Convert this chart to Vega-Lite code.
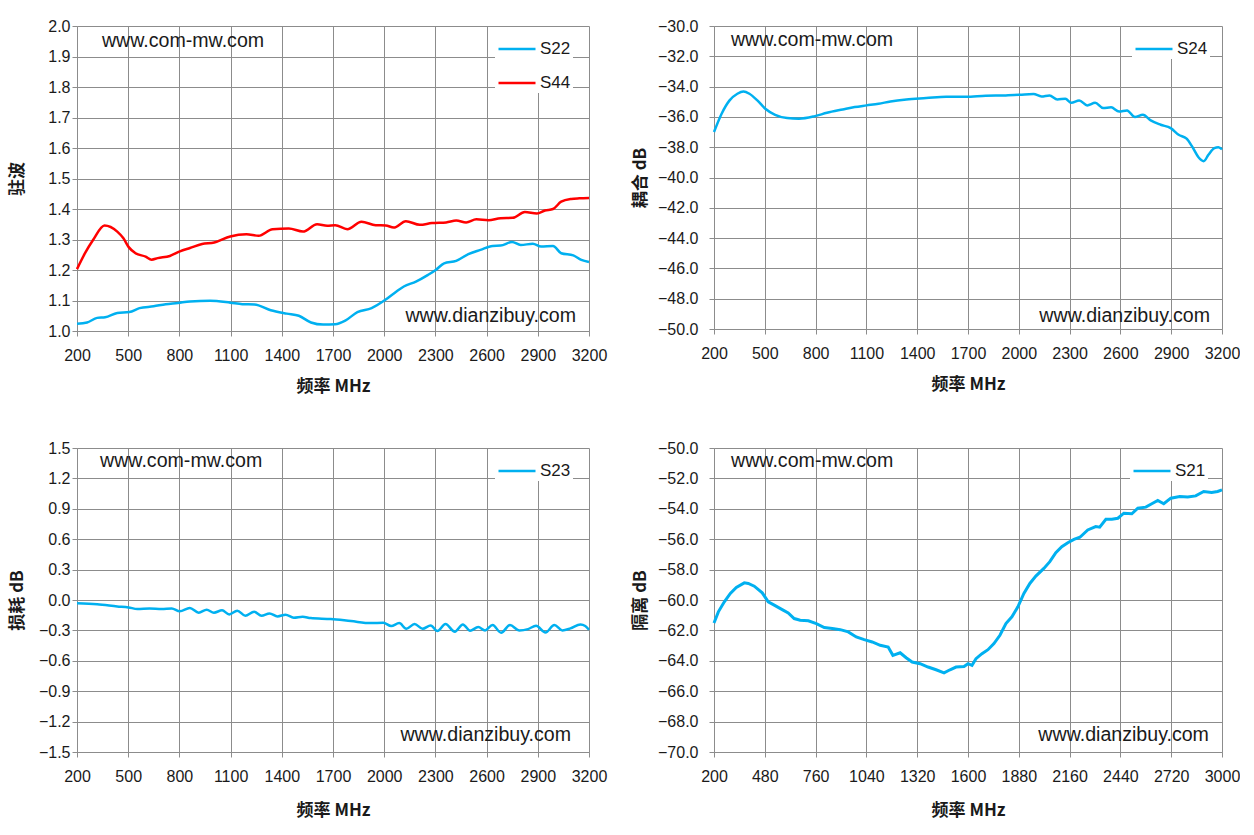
{
  "$schema": "https://vega.github.io/schema/vega-lite/v6.json",
  "background": "white",
  "padding": {"left": 8, "top": 18, "right": 0, "bottom": 6},
  "spacing": 46,
  "resolve": {"scale": {"color": "independent"}, "legend": {"color": "independent"}},
  "vconcat": [
    {
      "hconcat": [
        {
          "width": 512,
          "height": 305,
          "layer": [
            {
              "data": {"values": [
                {"s":"S22","f":200,"v":1.024},{"s":"S22","f":259,"v":1.028},{"s":"S22","f":318,"v":1.043},{"s":"S22","f":365,"v":1.045},{"s":"S22","f":436,"v":1.059},{"s":"S22","f":507,"v":1.062},{"s":"S22","f":566,"v":1.075},{"s":"S22","f":649,"v":1.081},{"s":"S22","f":720,"v":1.088},{"s":"S22","f":791,"v":1.092},{"s":"S22","f":862,"v":1.097},{"s":"S22","f":980,"v":1.099},{"s":"S22","f":1098,"v":1.093},{"s":"S22","f":1169,"v":1.088},{"s":"S22","f":1240,"v":1.087},{"s":"S22","f":1335,"v":1.068},{"s":"S22","f":1429,"v":1.057},{"s":"S22","f":1500,"v":1.05},{"s":"S22","f":1571,"v":1.028},{"s":"S22","f":1642,"v":1.021},{"s":"S22","f":1713,"v":1.022},{"s":"S22","f":1772,"v":1.034},{"s":"S22","f":1843,"v":1.062},{"s":"S22","f":1926,"v":1.075},{"s":"S22","f":2009,"v":1.103},{"s":"S22","f":2068,"v":1.128},{"s":"S22","f":2115,"v":1.146},{"s":"S22","f":2186,"v":1.162},{"s":"S22","f":2257,"v":1.184},{"s":"S22","f":2304,"v":1.201},{"s":"S22","f":2351,"v":1.222},{"s":"S22","f":2422,"v":1.23},{"s":"S22","f":2493,"v":1.252},{"s":"S22","f":2564,"v":1.266},{"s":"S22","f":2635,"v":1.279},{"s":"S22","f":2682,"v":1.28},{"s":"S22","f":2749,"v":1.292},{"s":"S22","f":2800,"v":1.282},{"s":"S22","f":2871,"v":1.286},{"s":"S22","f":2919,"v":1.277},{"s":"S22","f":2989,"v":1.279},{"s":"S22","f":3037,"v":1.255},{"s":"S22","f":3108,"v":1.248},{"s":"S22","f":3155,"v":1.233},{"s":"S22","f":3200,"v":1.226},
                {"s":"S44","f":200,"v":1.203},{"s":"S44","f":247,"v":1.255},{"s":"S44","f":295,"v":1.299},{"s":"S44","f":361,"v":1.346},{"s":"S44","f":436,"v":1.326},{"s":"S44","f":472,"v":1.304},{"s":"S44","f":503,"v":1.275},{"s":"S44","f":543,"v":1.255},{"s":"S44","f":602,"v":1.244},{"s":"S44","f":637,"v":1.234},{"s":"S44","f":673,"v":1.239},{"s":"S44","f":744,"v":1.246},{"s":"S44","f":803,"v":1.261},{"s":"S44","f":862,"v":1.272},{"s":"S44","f":933,"v":1.285},{"s":"S44","f":1004,"v":1.29},{"s":"S44","f":1098,"v":1.31},{"s":"S44","f":1193,"v":1.317},{"s":"S44","f":1264,"v":1.312},{"s":"S44","f":1346,"v":1.334},{"s":"S44","f":1441,"v":1.336},{"s":"S44","f":1524,"v":1.326},{"s":"S44","f":1607,"v":1.35},{"s":"S44","f":1666,"v":1.345},{"s":"S44","f":1713,"v":1.347},{"s":"S44","f":1784,"v":1.334},{"s":"S44","f":1867,"v":1.358},{"s":"S44","f":1950,"v":1.347},{"s":"S44","f":2009,"v":1.346},{"s":"S44","f":2056,"v":1.339},{"s":"S44","f":2127,"v":1.36},{"s":"S44","f":2209,"v":1.348},{"s":"S44","f":2280,"v":1.354},{"s":"S44","f":2363,"v":1.356},{"s":"S44","f":2422,"v":1.362},{"s":"S44","f":2480,"v":1.356},{"s":"S44","f":2540,"v":1.366},{"s":"S44","f":2611,"v":1.363},{"s":"S44","f":2682,"v":1.37},{"s":"S44","f":2753,"v":1.371},{"s":"S44","f":2824,"v":1.39},{"s":"S44","f":2895,"v":1.385},{"s":"S44","f":2942,"v":1.395},{"s":"S44","f":2989,"v":1.4},{"s":"S44","f":3037,"v":1.424},{"s":"S44","f":3096,"v":1.433},{"s":"S44","f":3143,"v":1.435},{"s":"S44","f":3200,"v":1.436}
              ]},
              "mark": {"type": "line", "strokeWidth": 2.5, "interpolate": "monotone"},
              "encoding": {
                "x": {"field": "f", "type": "quantitative", "scale": {"domain": [200, 3200], "nice": false},
                      "axis": {"values": [200,500,800,1100,1400,1700,2000,2300,2600,2900,3200], "tickCount": 30, "format": "d", "labelOverlap": false, "title": "频率  MHz"}},
                "y": {"field": "v", "type": "quantitative", "scale": {"domain": [1.0, 2.0], "nice": false, "zero": false},
                      "axis": {"values": [1.0,1.1,1.2,1.3,1.4,1.5,1.6,1.7,1.8,1.9,2.0], "tickCount": 30, "format": ".1f", "labelOverlap": false, "labelPadding": 2, "titlePadding": 21, "title": "驻波"}},
                "color": {"field": "s", "type": "nominal",
                          "scale": {"domain": ["S22","S44"], "range": ["#00B0F0","#FF0000"]},
                          "legend": {"orient": "none", "legendX": 418, "legendY": 1, "title": null}}
              }
            },
            {
              "data": {"values": [{"t": "www.com-mw.com"}]},
              "mark": {"type": "text", "align": "left", "baseline": "middle", "font": "Liberation Sans", "fontSize": 19.6, "color": "#1a1a1a"},
              "encoding": {"x": {"datum": 346, "type": "quantitative"}, "y": {"datum": 1.951, "type": "quantitative"}, "text": {"field": "t"}}
            },
            {
              "data": {"values": [{"t": "www.dianzibuy.com"}]},
              "mark": {"type": "text", "align": "right", "baseline": "middle", "font": "Liberation Sans", "fontSize": 19.6, "color": "#1a1a1a"},
              "encoding": {"x": {"datum": 3124, "type": "quantitative"}, "y": {"datum": 1.049, "type": "quantitative"}, "text": {"field": "t"}}
            }
          ]
        },
        {
          "width": 508,
          "height": 303,
          "layer": [
            {
              "data": {"values": [
                {"s":"S24","f":200,"v":-37.0},{"s":"S24","f":245,"v":-35.79},{"s":"S24","f":292,"v":-34.91},{"s":"S24","f":338,"v":-34.47},{"s":"S24","f":374,"v":-34.32},{"s":"S24","f":409,"v":-34.47},{"s":"S24","f":456,"v":-34.91},{"s":"S24","f":503,"v":-35.46},{"s":"S24","f":561,"v":-35.86},{"s":"S24","f":632,"v":-36.08},{"s":"S24","f":702,"v":-36.12},{"s":"S24","f":796,"v":-35.95},{"s":"S24","f":867,"v":-35.73},{"s":"S24","f":960,"v":-35.51},{"s":"S24","f":1031,"v":-35.35},{"s":"S24","f":1101,"v":-35.24},{"s":"S24","f":1172,"v":-35.13},{"s":"S24","f":1242,"v":-34.98},{"s":"S24","f":1336,"v":-34.85},{"s":"S24","f":1453,"v":-34.76},{"s":"S24","f":1571,"v":-34.67},{"s":"S24","f":1688,"v":-34.67},{"s":"S24","f":1805,"v":-34.6},{"s":"S24","f":1923,"v":-34.58},{"s":"S24","f":2005,"v":-34.54},{"s":"S24","f":2087,"v":-34.49},{"s":"S24","f":2134,"v":-34.65},{"s":"S24","f":2181,"v":-34.58},{"s":"S24","f":2228,"v":-34.85},{"s":"S24","f":2275,"v":-34.8},{"s":"S24","f":2310,"v":-35.07},{"s":"S24","f":2357,"v":-34.91},{"s":"S24","f":2404,"v":-35.24},{"s":"S24","f":2451,"v":-35.07},{"s":"S24","f":2498,"v":-35.42},{"s":"S24","f":2545,"v":-35.37},{"s":"S24","f":2592,"v":-35.64},{"s":"S24","f":2639,"v":-35.57},{"s":"S24","f":2686,"v":-36.01},{"s":"S24","f":2733,"v":-35.86},{"s":"S24","f":2779,"v":-36.23},{"s":"S24","f":2838,"v":-36.52},{"s":"S24","f":2897,"v":-36.74},{"s":"S24","f":2944,"v":-37.18},{"s":"S24","f":2991,"v":-37.44},{"s":"S24","f":3026,"v":-38.0},{"s":"S24","f":3061,"v":-38.66},{"s":"S24","f":3092,"v":-38.92},{"s":"S24","f":3120,"v":-38.5},{"s":"S24","f":3155,"v":-38.06},{"s":"S24","f":3179,"v":-38.0},{"s":"S24","f":3200,"v":-38.15}
              ]},
              "mark": {"type": "line", "strokeWidth": 2.5, "interpolate": "monotone"},
              "encoding": {
                "x": {"field": "f", "type": "quantitative", "scale": {"domain": [200, 3200], "nice": false},
                      "axis": {"values": [200,500,800,1100,1400,1700,2000,2300,2600,2900,3200], "tickCount": 30, "format": "d", "labelOverlap": false, "title": "频率  MHz"}},
                "y": {"field": "v", "type": "quantitative", "scale": {"domain": [-50, -30], "nice": false, "zero": false},
                      "axis": {"values": [-50,-48,-46,-44,-42,-40,-38,-36,-34,-32,-30], "tickCount": 30, "format": ".1f", "labelOverlap": false, "labelPadding": 11, "titlePadding": 8, "title": "耦合 dB"}},
                "color": {"field": "s", "type": "nominal",
                          "scale": {"domain": ["S24"], "range": ["#00B0F0"]},
                          "legend": {"orient": "none", "legendX": 418, "legendY": 1, "title": null}}
              }
            },
            {
              "data": {"values": [{"t": "www.com-mw.com"}]},
              "mark": {"type": "text", "align": "left", "baseline": "middle", "font": "Liberation Sans", "fontSize": 19.6, "color": "#1a1a1a"},
              "encoding": {"x": {"datum": 300, "type": "quantitative"}, "y": {"datum": -30.92, "type": "quantitative"}, "text": {"field": "t"}}
            },
            {
              "data": {"values": [{"t": "www.dianzibuy.com"}]},
              "mark": {"type": "text", "align": "right", "baseline": "middle", "font": "Liberation Sans", "fontSize": 19.6, "color": "#1a1a1a"},
              "encoding": {"x": {"datum": 3129, "type": "quantitative"}, "y": {"datum": -49.14, "type": "quantitative"}, "text": {"field": "t"}}
            }
          ]
        }
      ],
      "spacing": 24,
      "resolve": {"scale": {"color": "independent"}, "legend": {"color": "independent"}}
    },
    {
      "hconcat": [
        {
          "width": 512,
          "height": 304,
          "layer": [
            {
              "data": {"values": [
                {"s":"S23","f":200,"v":-0.033},{"s":"S23","f":318,"v":-0.043},{"s":"S23","f":436,"v":-0.063},{"s":"S23","f":502,"v":-0.073},{"s":"S23","f":554,"v":-0.089},{"s":"S23","f":625,"v":-0.083},{"s":"S23","f":696,"v":-0.089},{"s":"S23","f":755,"v":-0.083},{"s":"S23","f":802,"v":-0.112},{"s":"S23","f":861,"v":-0.079},{"s":"S23","f":913,"v":-0.125},{"s":"S23","f":960,"v":-0.096},{"s":"S23","f":1002,"v":-0.125},{"s":"S23","f":1050,"v":-0.102},{"s":"S23","f":1092,"v":-0.142},{"s":"S23","f":1139,"v":-0.105},{"s":"S23","f":1186,"v":-0.155},{"s":"S23","f":1238,"v":-0.115},{"s":"S23","f":1281,"v":-0.155},{"s":"S23","f":1328,"v":-0.132},{"s":"S23","f":1375,"v":-0.162},{"s":"S23","f":1422,"v":-0.145},{"s":"S23","f":1470,"v":-0.175},{"s":"S23","f":1522,"v":-0.165},{"s":"S23","f":1569,"v":-0.178},{"s":"S23","f":1687,"v":-0.188},{"s":"S23","f":1805,"v":-0.208},{"s":"S23","f":1923,"v":-0.228},{"s":"S23","f":1994,"v":-0.224},{"s":"S23","f":2041,"v":-0.257},{"s":"S23","f":2088,"v":-0.228},{"s":"S23","f":2130,"v":-0.284},{"s":"S23","f":2178,"v":-0.237},{"s":"S23","f":2225,"v":-0.284},{"s":"S23","f":2272,"v":-0.251},{"s":"S23","f":2312,"v":-0.307},{"s":"S23","f":2359,"v":-0.237},{"s":"S23","f":2414,"v":-0.313},{"s":"S23","f":2461,"v":-0.241},{"s":"S23","f":2503,"v":-0.303},{"s":"S23","f":2551,"v":-0.267},{"s":"S23","f":2591,"v":-0.3},{"s":"S23","f":2635,"v":-0.247},{"s":"S23","f":2685,"v":-0.323},{"s":"S23","f":2737,"v":-0.247},{"s":"S23","f":2791,"v":-0.3},{"s":"S23","f":2843,"v":-0.287},{"s":"S23","f":2890,"v":-0.254},{"s":"S23","f":2945,"v":-0.32},{"s":"S23","f":2997,"v":-0.247},{"s":"S23","f":3044,"v":-0.3},{"s":"S23","f":3091,"v":-0.28},{"s":"S23","f":3150,"v":-0.241},{"s":"S23","f":3178,"v":-0.257},{"s":"S23","f":3200,"v":-0.294}
              ]},
              "mark": {"type": "line", "strokeWidth": 2.5, "interpolate": "monotone"},
              "encoding": {
                "x": {"field": "f", "type": "quantitative", "scale": {"domain": [200, 3200], "nice": false},
                      "axis": {"values": [200,500,800,1100,1400,1700,2000,2300,2600,2900,3200], "tickCount": 30, "format": "d", "labelOverlap": false, "titlePadding": 18, "title": "频率  MHz"}},
                "y": {"field": "v", "type": "quantitative", "scale": {"domain": [-1.5, 1.5], "nice": false, "zero": false},
                      "axis": {"values": [-1.5,-1.2,-0.9,-0.6,-0.3,0,0.3,0.6,0.9,1.2,1.5], "tickCount": 30, "format": ".1f", "labelOverlap": false, "labelPadding": 2, "titlePadding": 12, "title": "损耗 dB"}},
                "color": {"field": "s", "type": "nominal",
                          "scale": {"domain": ["S23"], "range": ["#00B0F0"]},
                          "legend": {"orient": "none", "legendX": 418, "legendY": 1, "title": null}}
              }
            },
            {
              "data": {"values": [{"t": "www.com-mw.com"}]},
              "mark": {"type": "text", "align": "left", "baseline": "middle", "font": "Liberation Sans", "fontSize": 19.6, "color": "#1a1a1a"},
              "encoding": {"x": {"datum": 335, "type": "quantitative"}, "y": {"datum": 1.372, "type": "quantitative"}, "text": {"field": "t"}}
            },
            {
              "data": {"values": [{"t": "www.dianzibuy.com"}]},
              "mark": {"type": "text", "align": "right", "baseline": "middle", "font": "Liberation Sans", "fontSize": 19.6, "color": "#1a1a1a"},
              "encoding": {"x": {"datum": 3095, "type": "quantitative"}, "y": {"datum": -1.332, "type": "quantitative"}, "text": {"field": "t"}}
            }
          ]
        },
        {
          "width": 508,
          "height": 304,
          "layer": [
            {
              "data": {"values": [
                {"s":"S21","f":200,"v":-61.51},{"s":"S21","f":224,"v":-60.78},{"s":"S21","f":257,"v":-60.12},{"s":"S21","f":290,"v":-59.57},{"s":"S21","f":323,"v":-59.17},{"s":"S21","f":367,"v":-58.87},{"s":"S21","f":389,"v":-58.91},{"s":"S21","f":422,"v":-59.09},{"s":"S21","f":466,"v":-59.53},{"s":"S21","f":499,"v":-60.12},{"s":"S21","f":532,"v":-60.34},{"s":"S21","f":576,"v":-60.63},{"s":"S21","f":609,"v":-60.85},{"s":"S21","f":642,"v":-61.22},{"s":"S21","f":675,"v":-61.33},{"s":"S21","f":720,"v":-61.37},{"s":"S21","f":764,"v":-61.55},{"s":"S21","f":808,"v":-61.81},{"s":"S21","f":852,"v":-61.88},{"s":"S21","f":896,"v":-61.95},{"s":"S21","f":940,"v":-62.1},{"s":"S21","f":984,"v":-62.43},{"s":"S21","f":1028,"v":-62.61},{"s":"S21","f":1072,"v":-62.76},{"s":"S21","f":1116,"v":-62.98},{"s":"S21","f":1160,"v":-63.09},{"s":"S21","f":1186,"v":-63.64},{"s":"S21","f":1226,"v":-63.47},{"s":"S21","f":1259,"v":-63.8},{"s":"S21","f":1292,"v":-64.08},{"s":"S21","f":1336,"v":-64.19},{"s":"S21","f":1380,"v":-64.41},{"s":"S21","f":1424,"v":-64.59},{"s":"S21","f":1468,"v":-64.79},{"s":"S21","f":1501,"v":-64.59},{"s":"S21","f":1534,"v":-64.41},{"s":"S21","f":1578,"v":-64.37},{"s":"S21","f":1600,"v":-64.19},{"s":"S21","f":1622,"v":-64.3},{"s":"S21","f":1644,"v":-63.86},{"s":"S21","f":1677,"v":-63.53},{"s":"S21","f":1710,"v":-63.27},{"s":"S21","f":1743,"v":-62.87},{"s":"S21","f":1776,"v":-62.32},{"s":"S21","f":1809,"v":-61.55},{"s":"S21","f":1842,"v":-61.11},{"s":"S21","f":1875,"v":-60.45},{"s":"S21","f":1908,"v":-59.57},{"s":"S21","f":1941,"v":-58.91},{"s":"S21","f":1974,"v":-58.43},{"s":"S21","f":2018,"v":-57.92},{"s":"S21","f":2051,"v":-57.48},{"s":"S21","f":2084,"v":-56.89},{"s":"S21","f":2117,"v":-56.49},{"s":"S21","f":2150,"v":-56.23},{"s":"S21","f":2184,"v":-56.01},{"s":"S21","f":2217,"v":-55.87},{"s":"S21","f":2260,"v":-55.39},{"s":"S21","f":2304,"v":-55.17},{"s":"S21","f":2326,"v":-55.21},{"s":"S21","f":2360,"v":-54.69},{"s":"S21","f":2393,"v":-54.69},{"s":"S21","f":2426,"v":-54.62},{"s":"S21","f":2459,"v":-54.29},{"s":"S21","f":2503,"v":-54.33},{"s":"S21","f":2536,"v":-53.96},{"s":"S21","f":2580,"v":-53.89},{"s":"S21","f":2613,"v":-53.67},{"s":"S21","f":2646,"v":-53.45},{"s":"S21","f":2679,"v":-53.67},{"s":"S21","f":2718,"v":-53.3},{"s":"S21","f":2767,"v":-53.19},{"s":"S21","f":2811,"v":-53.23},{"s":"S21","f":2855,"v":-53.15},{"s":"S21","f":2899,"v":-52.86},{"s":"S21","f":2943,"v":-52.93},{"s":"S21","f":2976,"v":-52.86},{"s":"S21","f":3000,"v":-52.75}
              ]},
              "mark": {"type": "line", "strokeWidth": 3, "interpolate": "linear"},
              "encoding": {
                "x": {"field": "f", "type": "quantitative", "scale": {"domain": [200, 3000], "nice": false},
                      "axis": {"values": [200,480,760,1040,1320,1600,1880,2160,2440,2720,3000], "tickCount": 30, "format": "d", "labelOverlap": false, "titlePadding": 18, "title": "频率  MHz"}},
                "y": {"field": "v", "type": "quantitative", "scale": {"domain": [-70, -50], "nice": false, "zero": false},
                      "axis": {"values": [-70,-68,-66,-64,-62,-60,-58,-56,-54,-52,-50], "tickCount": 30, "format": ".1f", "labelOverlap": false, "labelPadding": 11, "titlePadding": 8, "title": "隔离 dB"}},
                "color": {"field": "s", "type": "nominal",
                          "scale": {"domain": ["S21"], "range": ["#00B0F0"]},
                          "legend": {"orient": "none", "legendX": 416, "legendY": 1, "title": null}}
              }
            },
            {
              "data": {"values": [{"t": "www.com-mw.com"}]},
              "mark": {"type": "text", "align": "left", "baseline": "middle", "font": "Liberation Sans", "fontSize": 19.6, "color": "#1a1a1a"},
              "encoding": {"x": {"datum": 294, "type": "quantitative"}, "y": {"datum": -50.86, "type": "quantitative"}, "text": {"field": "t"}}
            },
            {
              "data": {"values": [{"t": "www.dianzibuy.com"}]},
              "mark": {"type": "text", "align": "right", "baseline": "middle", "font": "Liberation Sans", "fontSize": 19.6, "color": "#1a1a1a"},
              "encoding": {"x": {"datum": 2928, "type": "quantitative"}, "y": {"datum": -68.88, "type": "quantitative"}, "text": {"field": "t"}}
            }
          ]
        }
      ],
      "spacing": 24,
      "resolve": {"scale": {"color": "independent"}, "legend": {"color": "independent"}}
    }
  ],
  "config": {
    "view": {"stroke": null},
    "axis": {
      "grid": true, "gridColor": "#8C8C8C", "gridWidth": 1,
      "domainColor": "#8C8C8C", "tickColor": "#8C8C8C", "tickSize": 5,
      "labelFont": "Liberation Sans", "labelFontSize": 16, "labelColor": "#1a1a1a", "labelOverlap": false,
      "titleFont": "Noto Sans CJK SC", "titleFontSize": 17, "titleFontWeight": "bold", "titleColor": "#1a1a1a"
    },
    "axisX": {"labelPadding": 11, "titlePadding": 15, "labelFlush": false},
    "legend": {
      "fillColor": "white", "padding": 2, "symbolType": "stroke", "symbolStrokeWidth": 2.5,
      "symbolSize": 1369, "labelFont": "Liberation Sans", "labelFontSize": 17, "labelColor": "#1a1a1a",
      "labelOffset": 3, "rowPadding": 6
    }
  }
}
